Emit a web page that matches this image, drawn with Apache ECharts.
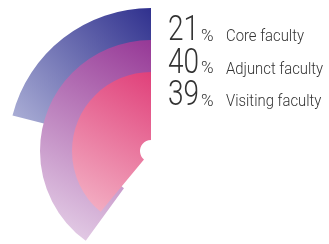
<!DOCTYPE html>
<html>
<head>
<meta charset="utf-8">
<script src="https://cdn.jsdelivr.net/npm/echarts@6/dist/echarts.min.js"></script>
<style>
  html, body { margin: 0; padding: 0; background: #fff; }
  #main { width: 329px; height: 244px; }
</style>
</head>
<body>
<div id="main"></div>
<script>
// faculty mix
var categories = ['Core faculty', 'Adjunct faculty', 'Visiting faculty'];
var shares = [21, 40, 39];

var chart = echarts.init(document.getElementById('main'));

// ring sizes and colours, outer first
var radii = [[60, 143], [46, 111], [11, 79]];
var colors = [
    ['#30318e', '#b2b6da'],
    ['#963896', '#e9d8ec'],
    ['#e0407a', '#f4b6c8']
];

var series = [];
for (var i = 0; i < shares.length; i++) {
    series.push({
        type: 'pie',
        center: [151, 151],
        radius: radii[i],
        startAngle: 90,
        clockwise: false,
        silent: true,
        z: 2 + i,
        label: { show: false },
        labelLine: { show: false },
        emphasis: { disabled: true },
        itemStyle: { borderWidth: 0 },
        data: [
            {
                value: shares[i],
                name: categories[i],
                itemStyle: {
                    color: new echarts.graphic.LinearGradient(1, 0, 0, 1, [
                        { offset: 0, color: colors[i][0] },
                        { offset: 1, color: colors[i][1] }
                    ])
                }
            },
            { value: 100 - shares[i], name: '', itemStyle: { color: 'rgba(0,0,0,0)' } }
        ]
    });
}

// legend text, one line per category
var graphics = [];
for (var j = 0; j < categories.length; j++) {
    var base = 42 + j * 32.5;
    graphics.push({
        type: 'text', x: 168, y: base - 28, scaleX: 0.8,
        style: { text: String(shares[j]), font: '300 35px Roboto', fill: '#333', verticalAlign: 'top' }
    });
    graphics.push({
        type: 'text', x: 201, y: base - 14,
        style: { text: '%', font: '300 17px Roboto', fill: '#333', verticalAlign: 'top' }
    });
    graphics.push({
        type: 'text', x: 226, y: base - 13.5, scaleX: 0.9,
        style: { text: categories[j], font: '300 16.5px Roboto', fill: '#333', verticalAlign: 'top' }
    });
}

chart.setOption({
    animation: false,
    series: series,
    graphic: graphics
});
</script>
</body>
</html>
